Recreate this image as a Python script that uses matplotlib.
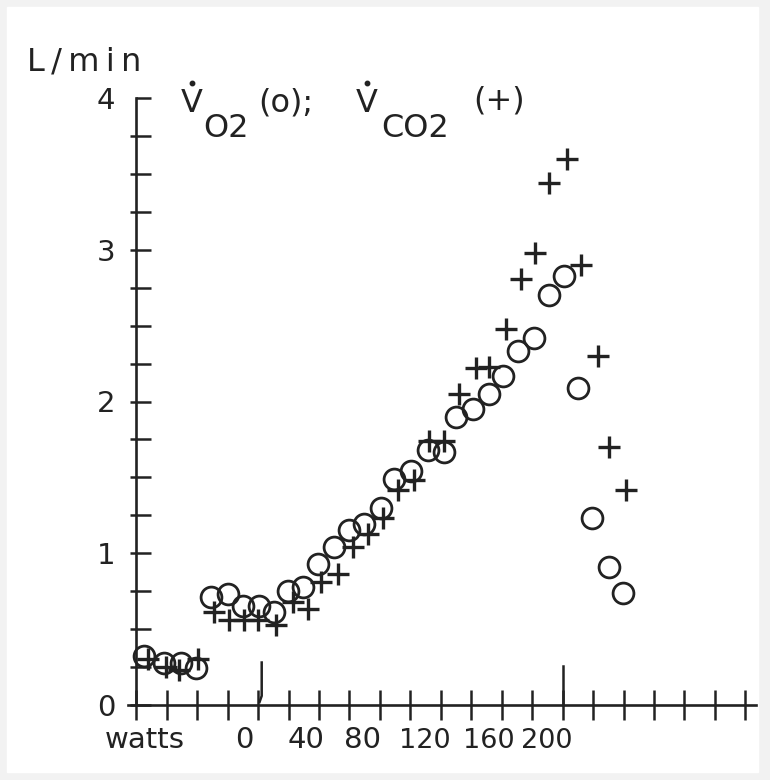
import numpy as np
import matplotlib
matplotlib.use("Agg")
import matplotlib.pyplot as plt
from matplotlib.patches import Rectangle
from matplotlib.lines import Line2D

# time in minutes (one x tick per minute), values in L/min
vo2_t = [0.26, 0.92, 1.48, 1.97, 2.46, 3.02, 3.51, 4.03, 4.52, 4.98, 5.48, 5.97,
         6.49, 6.98, 7.48, 8.03, 8.46, 9.02, 9.57, 10.10, 10.49, 11.05, 11.57,
         12.03, 12.52, 13.05, 13.54, 14.03, 14.52, 14.98, 15.51, 15.97]
vo2 = [0.32, 0.28, 0.28, 0.245, 0.71, 0.73, 0.65, 0.65, 0.61, 0.75, 0.78, 0.93,
       1.04, 1.15, 1.19, 1.30, 1.49, 1.54, 1.68, 1.67, 1.90, 1.95, 2.05,
       2.17, 2.33, 2.42, 2.70, 2.83, 2.09, 1.23, 0.91, 0.74]

vco2_t = [0.39, 0.98, 1.41, 2.03, 2.56, 3.05, 3.54, 4.0, 4.59, 5.15, 5.64, 6.07,
          6.62, 7.11, 7.61, 8.1, 8.59, 9.11, 9.61, 10.1, 10.59, 11.15, 11.57,
          12.13, 12.62, 13.11, 13.54, 14.16, 14.59, 15.15, 15.51, 16.07]
vco2 = [0.30, 0.25, 0.23, 0.30, 0.61, 0.56, 0.56, 0.56, 0.53, 0.68, 0.63, 0.81,
        0.86, 1.04, 1.13, 1.23, 1.42, 1.48, 1.74, 1.74, 2.05, 2.22, 2.23,
        2.48, 2.81, 2.98, 3.44, 3.60, 2.90, 2.30, 1.70, 1.42]

watt_labels = ['watts', '0', '40', '80', '120', '160', '200']
watt_pos = [0.28, 3.55, 5.56, 7.43, 9.47, 11.58, 13.49]
y_labels = ['0', '1', '2', '3', '4']

ink = '#222222'
W, H = 770, 780
plt.rcParams['font.family'] = ['DejaVu Sans']

fig = plt.figure(figsize=(W / 100, H / 100), dpi=100, facecolor='#f2f2f2')
fig.patches.append(Rectangle((7 / W, 1 - 772 / H), 751 / W, 765 / H,
                             transform=fig.transFigure, color='white',
                             zorder=-10))

ax = fig.add_axes([128 / W, 1 - 705 / H, 628 / W, 607 / H])
ax.patch.set_visible(False)
ax.set_xlim(-0.27, 20.35)
ax.set_ylim(0, 4)

for s in ['top', 'right']:
    ax.spines[s].set_visible(False)
ax.spines['left'].set_position(('data', 0))
ax.spines['left'].set_bounds(0, 4)
for s in ['left', 'bottom']:
    ax.spines[s].set_linewidth(1.9)
    ax.spines[s].set_color(ink)

# x axis: minute ticks crossing the axis, watt labels as minor ticks
ax.set_xticks(np.arange(0, 21))
ax.set_xticklabels([])
ax.tick_params(axis='x', which='major', direction='inout', length=22,
               width=1.8, color=ink)
ax.set_xticks(watt_pos, watt_labels, minor=True)
ax.tick_params(axis='x', which='minor', length=0, pad=31, labelsize=21,
               labelcolor=ink)
for lab in ax.get_xticklabels(minor=True):
    lab.set_verticalalignment('baseline')
    if len(lab.get_text()) == 3:
        lab.set_fontsize(19.5)

# y axis: quarter ticks, labels at integers
yt = np.arange(0, 4.01, 0.25)
ax.set_yticks(yt, [y_labels[int(v)] if v == int(v) else '' for v in yt])
ax.tick_params(axis='y', which='major', direction='in', length=11,
               width=1.8, color=ink, pad=15, labelsize=21, labelcolor=ink)
ax.yaxis.remove_overlapping_locs = False
ax.set_yticks(yt[:-1], minor=True)
ax.tick_params(axis='y', which='minor', direction='out', length=4,
               width=1.8, color=ink)

# event marks on the time axis
ax.plot([4.12, 4.12, 4.05], [0.28, 0.06, 0.02], color=ink, lw=1.8,
        clip_on=False)
ax.plot([14.0, 14.0], [0, 0.26], color=ink, lw=1.8, clip_on=False)

ax.plot(vco2_t, vco2, linestyle='none', marker='+', ms=16, mew=2.4,
        color=ink, clip_on=False)
ax.plot(vo2_t, vo2, linestyle='none', marker='o', ms=15, mew=2.0,
        mfc='none', mec=ink, clip_on=False)


def ftxt(x, y, s, size=23):
    fig.text(x / W, 1 - y / H, s, color=ink, fontsize=size, va='baseline')


def fdot(x, y):
    fig.add_artist(Line2D([x / W], [1 - y / H], marker='o', ms=3.2,
                          color=ink, transform=fig.transFigure))


ftxt(27, 71, 'L\u2009/\u2009m\u2009i\u2009n', size=23)
ftxt(181, 112, 'V')
fdot(192, 83)
ftxt(203, 137, 'O2')
ftxt(258, 112, '(o);')
ftxt(356, 112, 'V')
fdot(367, 83)
ftxt(381, 137, 'CO2')
ftxt(473, 109, '(+)')

fig.savefig('out.png', dpi=100, facecolor=fig.get_facecolor())
